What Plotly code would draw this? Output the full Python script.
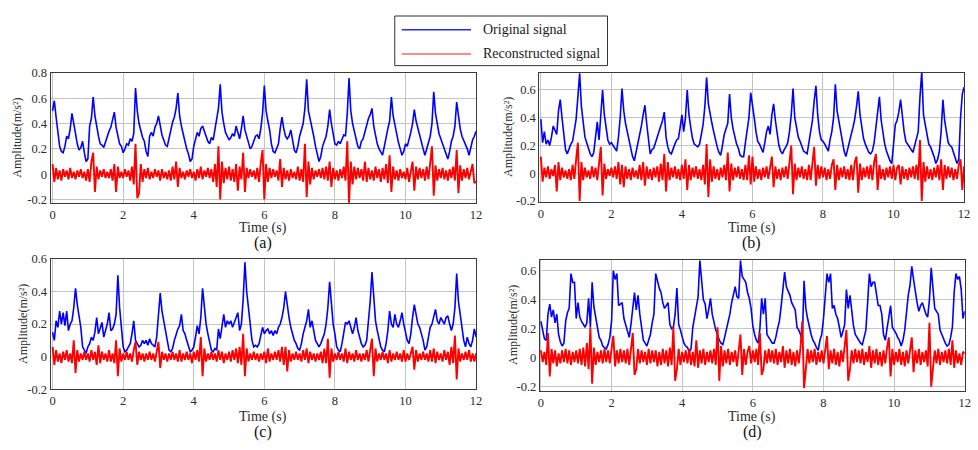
import numpy as np
import plotly.graph_objects as go

DT = 0.05

orig_a = [
    .50, .58, .45, .31, .22, .18, .17, .22, .30, .28, .36, .48, .38, .32, .24, .19, .21, .26, .17, .10,
    .12, .38, .44, .61, .46, .36, .30, .24, .23, .21, .26, .29, .34, .37, .42, .49, .37, .30, .24, .22,
    .17, .20, .24, .23, .28, .26, .32, .68, .50, .40, .33, .29, .26, .18, .14, .30, .33, .30, .37, .40,
    .46, .38, .31, .27, .23, .22, .29, .33, .41, .45, .52, .64, .46, .38, .31, .26, .20, .16, .10, .12,
    .22, .27, .33, .30, .36, .38, .34, .30, .26, .24, .29, .27, .35, .44, .52, .71, .49, .40, .33, .30,
    .27, .29, .32, .30, .38, .33, .28, .36, .46, .35, .30, .24, .20, .22, .26, .30, .31, .28, .36, .48,
    .70, .50, .42, .35, .24, .18, .17, .20, .24, .36, .45, .36, .30, .28, .30, .35, .27, .19, .17, .22,
    .30, .36, .40, .52, .75, .50, .44, .38, .30, .22, .17, .10, .14, .22, .26, .30, .38, .51, .40, .30,
    .24, .23, .26, .24, .27, .31, .30, .48, .76, .50, .40, .33, .27, .22, .20, .26, .28, .33, .40, .44,
    .47, .52, .38, .30, .24, .20, .17, .15, .22, .30, .36, .42, .61, .46, .38, .30, .25, .20, .15, .18,
    .24, .22, .29, .33, .40, .51, .42, .36, .30, .24, .20, .15, .20, .26, .30, .40, .65, .48, .40, .32,
    .28, .24, .20, .17, .12, .18, .26, .30, .38, .57, .44, .36, .30, .27, .24, .20, .15, .22, .27, .30,
    .34,
]
recon_a = [
    .08, -.06, .05, -.04, .03, -.05, .04, -.02, .03, -.04, .05, -.03, .02, -.04, .03, -.02, .04, -.03, .02, -.05,
    .04, -.06, .10, .17, -.14, .06, -.04, .03, -.02, .04, -.03, .02, -.03, .04, -.05, .08, -.14, .06, -.03, .02,
    -.03, .04, -.02, .03, -.05, .06, -.08, .24, -.19, -.15, .08, -.06, .04, -.03, .05, -.04, .02, -.03, .04, -.02,
    .03, -.05, .04, -.03, .02, -.04, .03, -.05, .06, -.04, .10, -.10, .05, -.03, .02, -.04, .03, -.02, .04, -.03,
    .02, -.05, .04, -.03, .06, -.04, .03, -.02, .05, -.03, .04, -.06, .08, -.10, .22, -.20, .10, -.07, .05, -.04,
    .06, -.05, .04, -.06, .08, -.13, .06, -.04, .17, -.14, .05, -.03, .04, -.02, .03, -.04, .05, -.06, .09, .19,
    -.20, .08, -.06, .05, -.03, .04, -.02, .03, -.05, .12, -.10, .05, -.04, .03, -.05, .04, -.03, .02, -.04, .06,
    -.05, .04, -.06, .24, -.18, .10, -.08, .05, -.04, .03, -.02, .04, -.03, .05, -.04, .06, -.05, .10, -.10, .05,
    -.04, .03, -.05, .04, -.03, .06, -.05, .26, -.23, .10, -.08, .06, -.04, .05, -.03, .04, -.05, .10, -.06, .05,
    -.04, .03, -.05, .06, -.03, .04, -.06, .05, -.04, .08, -.07, .15, -.14, .06, -.04, .03, -.05, .04, -.03, .02,
    -.04, .05, -.06, .04, .10, -.13, .06, -.04, .05, -.03, .04, -.05, .06, -.04, .08, .22, -.17, .07, -.05, .04,
    -.03, .05, -.04, .03, -.05, .04, -.03, .06, -.05, .19, -.15, .07, -.05, .04, -.03, .05, -.04, .03, .08, -.07,
    -.06,
]

orig_b = [
    .39, .22, .30, .21, .24, .20, .26, .34, .31, .28, .45, .53, .40, .26, .17, .14, .18, .21, .23, .30,
    .39, .55, .72, .48, .36, .26, .22, .18, .14, .12, .15, .26, .37, .24, .40, .60, .42, .33, .24, .21,
    .22, .20, .18, .16, .26, .40, .61, .45, .36, .30, .24, .16, .12, .09, .15, .21, .28, .34, .42, .49,
    .36, .25, .14, .17, .18, .22, .27, .30, .34, .38, .44, .26, .19, .15, .14, .18, .21, .24, .25, .33,
    .42, .30, .40, .60, .42, .33, .25, .21, .20, .19, .21, .28, .35, .48, .69, .50, .42, .36, .30, .24,
    .19, .15, .13, .20, .28, .32, .36, .57, .40, .32, .26, .21, .18, .13, .12, .12, .22, .30, .40, .58,
    .50, .40, .30, .23, .21, .18, .15, .22, .30, .34, .28, .42, .50, .38, .28, .20, .16, .14, .17, .19,
    .22, .30, .42, .61, .40, .32, .26, .23, .20, .16, .15, .14, .22, .30, .38, .52, .63, .42, .30, .24,
    .23, .21, .18, .16, .24, .30, .40, .64, .45, .37, .30, .24, .16, .12, .18, .23, .28, .33, .39, .48,
    .59, .42, .32, .25, .21, .18, .15, .14, .16, .22, .32, .42, .55, .38, .28, .21, .16, .12, .09, .07,
    .20, .35, .38, .44, .53, .40, .30, .23, .21, .19, .17, .15, .20, .25, .30, .55, .73, .42, .34, .27,
    .21, .19, .16, .12, .07, .10, .16, .30, .53, .38, .30, .22, .20, .19, .15, .11, .07, .10, .40, .57,
    .62,
]
recon_b = [
    .12, -.06, .04, -.03, .05, -.04, .03, -.02, .06, -.13, .08, -.05, .04, -.03, .02, -.04, .03, -.05, .06, -.04,
    .10, .22, -.20, .08, -.05, .04, -.03, .02, -.04, .05, -.03, .04, -.05, .06, .19, -.16, .07, -.04, .03, -.02,
    .04, -.03, .05, -.04, .08, -.08, .06, -.10, .05, -.04, .03, -.05, .04, -.03, .02, -.04, .06, -.05, .08, -.09,
    .05, -.04, .03, -.05, .04, -.03, .05, -.06, .07, -.05, .14, -.13, .08, -.05, .04, -.03, .05, -.04, .03, -.05,
    .06, -.04, .10, -.12, .06, -.05, .04, -.03, .05, -.04, .03, -.05, .06, -.08, .21, -.17, .10, -.06, .05, -.04,
    .03, -.05, .04, -.03, .06, -.05, .15, -.13, .07, -.05, .04, -.03, .05, -.04, .03, -.05, .06, -.05, .13, -.08,
    .12, -.06, .05, -.04, .03, -.05, .04, -.03, .05, -.04, .06, .12, -.10, .05, -.04, .03, -.05, .04, -.03, .05,
    -.04, .06, .20, -.15, .07, -.05, .04, -.03, .05, -.04, .03, -.05, .06, -.05, .08, .19, -.09, .06, -.04, .05,
    -.03, .04, -.05, .03, -.04, .06, .10, -.12, .06, -.05, .04, -.03, .05, -.04, .03, -.05, .06, -.05, .08, .12,
    -.14, .07, -.05, .04, -.03, .05, -.04, .06, -.05, .08, .14, -.12, .06, -.04, .03, -.05, .04, -.03, .05, -.04,
    .06, -.05, .04, .06, -.08, .05, -.04, .03, -.05, .04, -.03, .05, -.04, .06, -.05, .24, -.20, .08, -.06, .05,
    -.04, .03, -.05, .04, -.03, .06, -.05, .10, -.12, .06, -.04, .05, -.03, .04, -.05, .03, -.04, .06, .10, -.12,
    .05,
]

orig_c = [
    .15, .10, .22, .18, .28, .20, .27, .19, .28, .16, .20, .22, .30, .42, .32, .25, .18, .06, .04, .02,
    .06, .08, .12, .10, .15, .24, .14, .18, .21, .12, .16, .20, .27, .16, .17, .20, .26, .50, .30, .16,
    .06, .03, .04, .06, .08, .14, .22, .10, .08, .06, .07, .10, .08, .10, .07, .11, .08, .07, .06, .12,
    .24, .39, .28, .22, .16, .08, .04, .03, .05, .10, .14, .17, .19, .26, .16, .14, .10, .06, .03, .04,
    .06, .12, .19, .14, .24, .42, .28, .20, .14, .08, .04, .03, .05, .04, .17, .11, .20, .26, .18, .22,
    .20, .22, .18, .21, .24, .27, .16, .20, .35, .58, .40, .28, .20, .10, .06, .07, .06, .08, .14, .18,
    .14, .16, .17, .14, .16, .13, .16, .14, .18, .20, .24, .30, .40, .30, .24, .18, .14, .10, .08, .05,
    .04, .08, .14, .18, .22, .29, .18, .22, .16, .10, .08, .06, .08, .11, .14, .20, .30, .46, .30, .20,
    .14, .06, .04, .03, .08, .15, .21, .20, .22, .18, .14, .18, .24, .16, .12, .08, .06, .07, .10, .20,
    .34, .52, .34, .22, .16, .10, .06, .04, .03, .08, .16, .28, .20, .18, .26, .20, .18, .22, .27, .20,
    .14, .10, .08, .14, .24, .32, .26, .20, .18, .14, .10, .04, .06, .12, .18, .20, .24, .29, .22, .20,
    .24, .22, .20, .24, .25, .20, .16, .20, .30, .51, .34, .26, .18, .10, .06, .12, .08, .06, .10, .17,
    .12,
]
recon_c = [
    .06, -.05, .04, -.03, .02, -.04, .03, -.02, .04, -.03, .02, -.04, .10, -.10, .04, -.03, .02, -.02, .03, -.02,
    .02, -.03, .04, -.02, .03, -.05, .07, -.04, .03, -.02, .02, -.03, .04, -.03, .02, -.04, .10, -.12, .05, -.03,
    .02, -.02, .03, -.02, .02, -.03, .04, .09, -.05, .03, -.02, .02, -.03, .02, -.02, .03, -.02, .02, -.03, .04,
    .09, -.07, .03, -.02, .02, -.03, .02, -.02, .03, -.02, .02, -.03, .04, -.03, .02, -.02, .03, -.02, .02, -.04,
    .03, -.02, .04, -.03, .12, -.12, .05, -.03, .02, -.02, .03, -.02, .02, -.03, .04, -.02, .03, -.04, .02, -.02,
    .03, -.03, .04, -.02, .05, -.04, .06, -.05, .14, -.12, .05, -.03, .02, -.02, .03, -.02, .02, -.03, .02, -.02,
    .03, -.04, .05, -.03, .02, -.02, .03, -.02, .04, -.03, .06, -.05, .06, -.09, .04, -.03, .02, -.02, .03, -.02,
    .02, -.03, .04, -.02, .05, -.04, .03, -.02, .02, -.03, .02, -.02, .03, -.04, .05, -.04, .11, -.13, .05, -.03,
    .02, -.02, .03, -.02, .02, -.03, .05, -.04, .03, -.02, .02, -.03, .04, -.02, .02, -.03, .02, -.02, .04, -.03,
    .05, .11, -.12, .05, -.03, .02, -.02, .03, -.02, .02, -.04, .04, -.03, .02, -.02, .03, -.02, .02, -.03, .04,
    -.03, .02, -.02, .03, .06, -.08, .04, -.03, .02, -.02, .03, -.02, .02, -.03, .04, -.03, .05, -.04, .03, -.02,
    .02, -.03, .04, -.02, .03, -.05, .06, -.04, .13, -.14, .05, -.03, .02, -.02, .03, -.02, .04, -.03, .02, -.03,
    .02,
]

orig_d = [
    .25, .19, .13, .12, .30, .37, .28, .33, .24, .30, .16, .11, .08, .10, .25, .31, .34, .58, .52, .52,
    .27, .38, .28, .25, .23, .21, .24, .41, .21, .52, .35, .27, .19, .14, .12, .08, .07, .06, .09, .14,
    .25, .60, .54, .58, .36, .37, .38, .27, .23, .19, .14, .23, .35, .45, .33, .43, .30, .20, .12, .10,
    .08, .12, .16, .24, .30, .58, .52, .48, .45, .38, .34, .36, .38, .23, .20, .21, .30, .48, .23, .19,
    .15, .10, .08, .07, .04, .06, .21, .28, .35, .42, .67, .55, .40, .37, .27, .33, .41, .30, .23, .19,
    .16, .12, .10, .09, .14, .19, .25, .30, .38, .44, .49, .42, .41, .67, .56, .54, .52, .45, .41, .34,
    .22, .16, .12, .10, .20, .41, .30, .41, .16, .14, .12, .10, .10, .14, .20, .25, .35, .45, .59, .49,
    .46, .43, .38, .35, .33, .21, .19, .16, .12, .53, .34, .27, .20, .16, .12, .10, .07, .05, .12, .16,
    .27, .40, .58, .52, .58, .34, .36, .30, .27, .21, .14, .18, .23, .47, .34, .43, .30, .22, .16, .14,
    .12, .10, .09, .14, .19, .38, .58, .49, .52, .52, .43, .36, .36, .30, .16, .12, .20, .27, .36, .21,
    .19, .17, .14, .12, .08, .12, .19, .34, .43, .50, .63, .54, .45, .38, .32, .36, .38, .34, .30, .28,
    .40, .62, .47, .34, .32, .30, .19, .16, .12, .10, .08, .09, .14, .21, .45, .58, .54, .56, .47, .27,
    .32,
]
recon_d = [
    .05, -.03, .04, -.05, .17, -.13, .06, -.04, .05, -.06, .03, -.04, .05, -.03, .06, -.04, .05, -.05, .04, -.03,
    .05, -.04, .06, -.05, .07, -.06, .10, -.08, .21, -.18, .07, -.05, .04, -.03, .05, -.04, .06, -.03, .05, -.04,
    .06, .15, -.06, .05, -.04, .06, -.03, .05, -.04, .06, -.05, .08, .17, -.12, -.08, .06, -.04, .05, -.03, .04,
    -.05, .06, -.04, .05, -.03, .05, -.06, .04, -.05, .06, -.04, .05, -.06, .07, -.05, .21, -.16, -.08, .06, -.05,
    .04, -.03, .05, -.04, .06, -.05, .04, -.06, .12, -.07, .05, -.04, .06, -.05, .04, -.03, .05, -.04, .06, -.05,
    .21, -.16, .08, -.06, .05, -.04, .06, -.05, .04, -.03, .05, -.06, .07, .16, -.12, .06, -.05, .04, .08, -.04,
    .05, -.03, .06, -.05, .17, -.12, -.08, .05, -.04, .06, -.03, .05, -.04, .06, -.05, .04, -.03, .08, -.07, .05,
    -.04, .06, -.05, .04, -.06, .05, -.04, .07, .25, -.21, -.08, .06, -.04, .05, -.03, .06, -.05, .04, -.03, .05,
    -.04, .06, .15, -.08, .05, -.04, .06, -.05, .04, -.06, .05, -.03, .07, .19, -.16, -.08, .05, -.04, .06, -.03,
    .05, -.04, .06, -.05, .04, -.03, .08, -.07, .05, -.04, .06, -.05, .04, -.06, .05, -.04, .07, .14, -.13, .06,
    -.05, .04, -.03, .06, -.05, .04, -.06, .05, -.04, .06, .14, -.10, .05, -.04, .06, -.05, .04, -.03, .05, -.06,
    .24, -.20, -.06, .05, -.04, .06, -.05, .04, -.03, .05, -.04, .06, -.05, .12, -.07, .05, -.04, .03, -.05, .04,
    .03,
]

TIME_TICKS = [0, 2, 4, 6, 8, 10, 12]
TIME_TICK_LABELS = ["0", "2", "4", "6", "8", "10", "12"]
AMP_TICKS_A = [-0.2, 0, 0.2, 0.4, 0.6, 0.8]
AMP_TICK_LABELS_A = ["-0.2", "0", "0.2", "0.4", "0.6", "0.8"]
AMP_TICKS = [-0.2, 0, 0.2, 0.4, 0.6]
AMP_TICK_LABELS = ["-0.2", "0", "0.2", "0.4", "0.6"]
PANEL_LABELS = ["(a)", "(b)", "(c)", "(d)"]
SERIES_NAMES = ["Original signal", "Reconstructed signal"]
X_TITLE = "Time (s)"
Y_TITLE = "Amplitude(m/s²)"

# ---------------- layout helpers ----------------
W, H = 978, 450
FONT = "Liberation Serif"
BLUE = "#0000ff"
RED = "#ff0000"
GRID = "#c4c4c4"
FRAME = "#3a3a3a"
TXT = "#2b2b2b"


def px(x):
    return x / W


def py(y):
    return 1 - y / H


panels = [
    dict(orig=orig_a, recon=recon_a, xpx=(49, 478), ypx=(68, 202), xr=[-0.056, 12], yr=[-0.225, 0.8],
         yt=AMP_TICKS_A, ytl=AMP_TICK_LABELS_A, ytitle_x=15, xtitle_y=228, label_y=244),
    dict(orig=orig_b, recon=recon_b, xpx=(541.7, 970), ypx=(67.7, 201), xr=[-0.045, 12], yr=[-0.205, 0.725],
         yt=AMP_TICKS, ytl=AMP_TICK_LABELS, ytitle_x=510, xtitle_y=228, label_y=244),
    dict(orig=orig_c, recon=recon_c, xpx=(49, 478), ypx=(260, 394.5), xr=[-0.056, 12], yr=[-0.2, 0.6],
         yt=AMP_TICKS, ytl=AMP_TICK_LABELS, ytitle_x=21, xtitle_y=423, label_y=439),
    dict(orig=orig_d, recon=recon_d, xpx=(542.3, 970.7), ypx=(260.7, 396), xr=[-0.03, 12], yr=[-0.228, 0.677],
         yt=AMP_TICKS, ytl=AMP_TICK_LABELS, ytitle_x=515, xtitle_y=423, label_y=439),
]

fig = go.Figure()
annotations = []
layout_axes = {}

for i, p in enumerate(panels):
    k = "" if i == 0 else str(i + 1)
    xa, ya = "x" + k, "y" + k
    t_o = np.arange(len(p["orig"])) * DT
    t_r = np.arange(len(p["recon"])) * DT
    fig.add_trace(go.Scatter(x=t_o, y=p["orig"], mode="lines", name=SERIES_NAMES[0],
                             line=dict(color=BLUE, width=1.6), xaxis=xa, yaxis=ya, showlegend=False))
    fig.add_trace(go.Scatter(x=t_r, y=p["recon"], mode="lines", name=SERIES_NAMES[1],
                             line=dict(color=RED, width=1.9), xaxis=xa, yaxis=ya, showlegend=False))

    x0, x1 = p["xpx"]
    y0, y1 = p["ypx"]
    layout_axes["xaxis" + k] = dict(
        domain=[px(x0), px(x1)], range=p["xr"], anchor=ya,
        tickmode="array", tickvals=TIME_TICKS, ticktext=TIME_TICK_LABELS,
        showgrid=True, gridcolor=GRID, gridwidth=1, zeroline=False,
        showline=True, linecolor=FRAME, linewidth=1, mirror=True,
        ticks="", tickfont=dict(family=FONT, size=12.5, color=TXT),
    )
    layout_axes["yaxis" + k] = dict(
        domain=[py(y1), py(y0)], range=p["yr"], anchor=xa,
        tickmode="array", tickvals=p["yt"], ticktext=p["ytl"],
        showgrid=True, gridcolor=GRID, gridwidth=1, zeroline=False,
        showline=True, linecolor=FRAME, linewidth=1, mirror=True,
        ticks="", tickfont=dict(family=FONT, size=12.5, color=TXT),
    )
    cx = (x0 + x1) / 2
    annotations.append(dict(text=X_TITLE, x=px(cx), y=py(p["xtitle_y"]), xref="paper", yref="paper",
                            xanchor="center", yanchor="middle", showarrow=False,
                            font=dict(family=FONT, size=14, color=TXT)))
    annotations.append(dict(text=PANEL_LABELS[i], x=px(cx), y=py(p["label_y"]), xref="paper", yref="paper",
                            xanchor="center", yanchor="middle", showarrow=False,
                            font=dict(family=FONT, size=16, color="#111111")))
    annotations.append(dict(text=Y_TITLE, x=px(p["ytitle_x"]), y=py((y0 + y1) / 2), xref="paper", yref="paper",
                            xanchor="center", yanchor="middle", textangle=-90, showarrow=False,
                            font=dict(family=FONT, size=12, color=TXT)))

# legend drawn as a framed box with sample lines and text
shapes = [
    dict(type="rect", xref="paper", yref="paper", x0=px(396), x1=px(610.5), y0=py(60.5), y1=py(9.3),
         line=dict(color="#333333", width=1), fillcolor="white"),
    dict(type="line", xref="paper", yref="paper", x0=px(403), x1=px(473), y0=py(23.5), y1=py(23.5),
         line=dict(color="#2a2ae6", width=1.3)),
    dict(type="line", xref="paper", yref="paper", x0=px(403), x1=px(473), y0=py(48.5), y1=py(48.5),
         line=dict(color="#ff6464", width=1.6)),
]
for name, yy in zip(SERIES_NAMES, [23.5, 48.5]):
    annotations.append(dict(text=name, x=px(483), y=py(yy), xref="paper", yref="paper",
                            xanchor="left", yanchor="middle", showarrow=False,
                            font=dict(family=FONT, size=14, color="#1a1a1a")))

fig.update_layout(
    width=W, height=H, margin=dict(l=0, r=0, t=0, b=0),
    paper_bgcolor="white", plot_bgcolor="white",
    showlegend=False, annotations=annotations, shapes=shapes,
    **layout_axes,
)

fig.write_html("out.html")
